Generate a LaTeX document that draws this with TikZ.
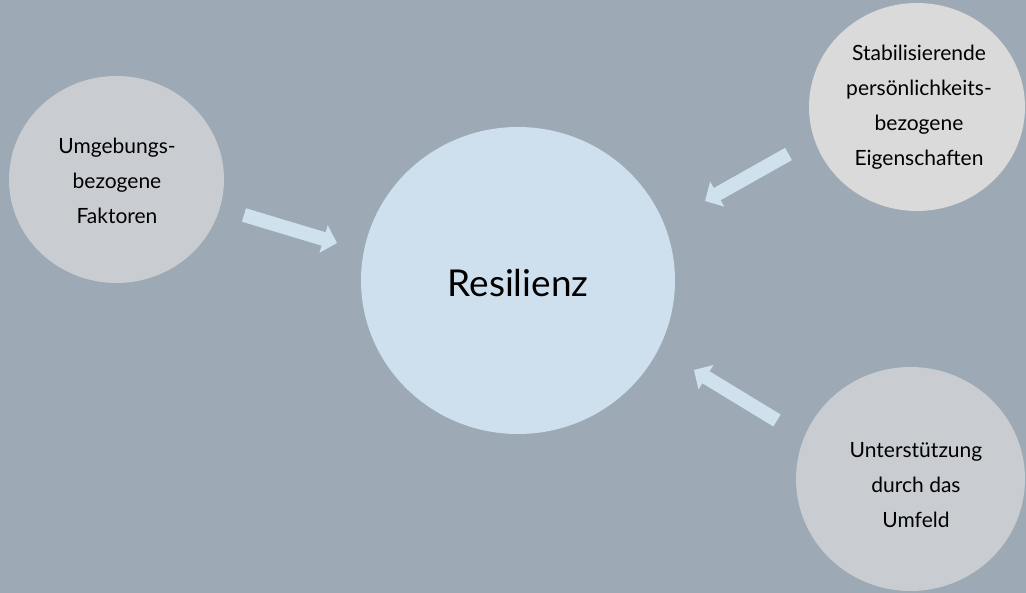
\documentclass[tikz,border=0pt]{standalone}
\usepackage{fontspec}
\setmainfont{Lato}
\usetikzlibrary{shapes.geometric,arrows.meta}

\definecolor{bgblue}{RGB}{157,169,180}
\definecolor{coreblue}{RGB}{206,224,237}
\definecolor{softgray}{RGB}{201,205,209}
\definecolor{lightgray}{RGB}{218,218,218}
\definecolor{arrowblue}{RGB}{208,225,238}

\tikzset{
  bubble/.style={ellipse, inner sep=0pt, draw=none},
  caption/.style={align=center, text=black, font=\fontsize{21}{35}\selectfont},
  maincaption/.style={text=black, font=\fontsize{37}{42}\selectfont},
  blockarrow/.style={draw=arrowblue, line width=14pt, line cap=butt,
    -{Triangle[length=14pt, width=28pt]}}
}

\begin{document}
\begin{tikzpicture}[x=1pt, y=-1pt]
  % canvas
  \fill[bgblue] (0,0) rectangle (1026,593);
  \useasboundingbox (0,0) rectangle (1026,593);

  % bubbles
  \node[bubble, fill=coreblue, minimum width=314pt, minimum height=307pt] (core) at (518,280.5) {};
  \node[bubble, fill=softgray, minimum width=215pt, minimum height=207pt] (env) at (116.5,179.5) {};
  \node[bubble, fill=lightgray, minimum width=216pt, minimum height=208pt] (pers) at (917,107) {};
  \node[bubble, fill=softgray, minimum width=229pt, minimum height=224pt] (supp) at (910.5,479) {};

  % captions
  \node[maincaption] (coretext) at (518,283) {Resilienz};
  \node[caption] (envtext) at (117,181) {Umgebungs-\\bezogene\\Faktoren};
  \node[caption] (perstext) at (919,107) {Stabilisierende\\persönlichkeits-\\bezogene\\Eigenschaften};
  \node[caption] (supptext) at (916,485) {Unterstützung\\durch das\\Umfeld};

  % arrow ends
  \coordinate (envtail) at (244,215);
  \coordinate (envtip) at (337,243);
  \coordinate (perstail) at (788.5,154);
  \coordinate (perstip) at (705,201);
  \coordinate (supptail) at (777,420.5);
  \coordinate (supptip) at (694,370);

  % arrows towards the core
  \draw[blockarrow] (envtail) -- (envtip);
  \draw[blockarrow] (perstail) -- (perstip);
  \draw[blockarrow] (supptail) -- (supptip);
\end{tikzpicture}
\end{document}
